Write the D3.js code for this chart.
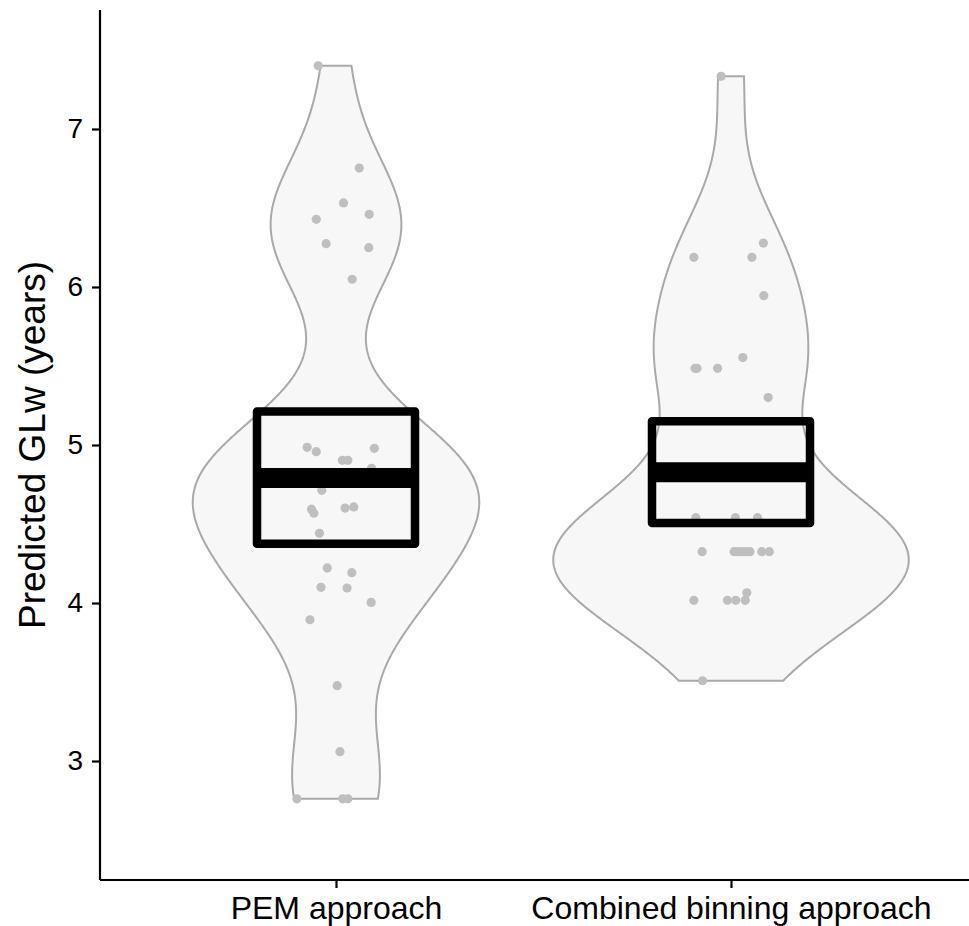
<!DOCTYPE html>
<html>
<head>
<meta charset="utf-8">
<script src="https://cdn.jsdelivr.net/npm/d3@7"></script>
<style>
  body { margin: 0; background: #fff; }
  svg { display: block; font-family: Arial, "Liberation Sans", sans-serif; }
</style>
</head>
<body>
<svg width="969" height="926"></svg>
<script>
// categories
const groups = ['PEM approach', 'Combined binning approach'];

// predicted GLw values (one sits behind the mean bar)
const pemValues = [7.40, 6.753, 6.532, 6.428, 6.46, 6.274, 6.249, 6.049,
  4.985, 4.958, 4.979, 4.903, 4.903, 4.853, 4.79, 4.713, 4.594, 4.568, 4.601, 4.608,
  4.441, 4.222, 4.192, 4.099, 4.095, 4.004, 3.894, 3.477, 3.059, 2.761, 2.761, 2.761];
// horizontal jitter of each point (in category units)
const pemJitter = [-0.045, 0.059, 0.019, -0.050, 0.084, -0.025, 0.083, 0.041,
  -0.073, -0.050, 0.097, 0.016, 0.030, 0.090, 0.005, -0.036, -0.062, -0.056, 0.023, 0.045,
  -0.042, -0.022, 0.040, -0.038, 0.028, 0.089, -0.066, 0.003, 0.010, -0.099, 0.017, 0.030];

const combValues = [7.333, 6.278, 6.188, 6.188, 5.945, 5.553, 5.485, 5.485, 5.485,
  5.30, 4.54, 4.54, 4.54,
  4.325, 4.325, 4.325, 4.325, 4.325, 4.325, 4.325, 4.325,
  4.017, 4.017, 4.017, 4.017, 4.065, 3.508];
const combJitter = [-0.025, 0.082, -0.094, 0.053, 0.083, 0.030, -0.091, -0.086, -0.034,
  0.094, -0.089, 0.011, 0.067,
  -0.073, 0.008, 0.018, 0.028, 0.038, 0.048, 0.078, 0.097,
  -0.094, -0.009, 0.012, 0.036, 0.040, -0.072];

// crossbar: mean and interval
const means = [4.791, 4.828];
const lowers = [4.375, 4.506];
const uppers = [5.212, 5.151];

const yTicks = [3, 4, 5, 6, 7];

const svg = d3.select('svg');

const x = d3.scaleLinear().domain([0.4, 2.6]).range([99, 968]);
const y = d3.scaleLinear().domain([2.247, 7.753]).range([880, 10]);

// kernel density, R's nrd0 bandwidth
function nrd0(v) {
  let s = v.slice().sort(d3.ascending);
  let sd = d3.deviation(s);
  let iqr = d3.quantileSorted(s, 0.75) - d3.quantileSorted(s, 0.25);
  let lo = Math.min(sd, iqr / 1.34);
  if (!lo) lo = sd || Math.abs(s[0]) || 1;
  return 0.9 * lo * Math.pow(s.length, -0.2);
}

function density(v) {
  let bw = nrd0(v);
  let lo = d3.min(v), hi = d3.max(v);
  let n = 512;
  return d3.range(n).map((i) => {
    let t = lo + (hi - lo) * i / (n - 1);
    let sum = d3.sum(v, (xi) => Math.exp(-0.5 * ((t - xi) / bw) ** 2));
    return { y: t, d: sum / (v.length * bw * Math.sqrt(2 * Math.PI)) };
  });
}

const allValues = [pemValues, combValues];
const allJitter = [pemJitter, combJitter];
const dens = allValues.map(density);
const maxD = d3.max(dens, (ds) => d3.max(ds, (p) => p.d));

const plot = svg.append('g');

// violins
dens.forEach((ds, i) => {
  let c = i + 1;
  let pts = ds.map((p) => [x(c + 0.45 * p.d / maxD), y(p.y)])
    .concat(ds.slice().reverse().map((p) => [x(c - 0.45 * p.d / maxD), y(p.y)]));
  plot.append('path')
    .attr('d', d3.line()(pts) + 'Z')
    .attr('fill', '#f7f7f7')
    .attr('stroke', '#a9a9a9')
    .attr('stroke-width', 2);
});

// jittered points
allValues.forEach((vals, i) => {
  plot.selectAll('.pt' + i)
    .data(vals)
    .enter().append('circle')
    .attr('cx', (d, j) => x(i + 1 + allJitter[i][j]))
    .attr('cy', (d) => y(d))
    .attr('r', 4.6)
    .attr('fill', '#bfbfbf');
});

// crossbars
groups.forEach((g, i) => {
  let c = i + 1;
  plot.append('rect')
    .attr('x', x(c - 0.2))
    .attr('y', y(uppers[i]))
    .attr('width', x(c + 0.2) - x(c - 0.2))
    .attr('height', y(lowers[i]) - y(uppers[i]))
    .attr('fill', 'none')
    .attr('stroke', '#000')
    .attr('stroke-width', 8.5)
    .attr('stroke-linejoin', 'round');
  plot.append('line')
    .attr('x1', x(c - 0.2))
    .attr('x2', x(c + 0.2))
    .attr('y1', y(means[i]))
    .attr('y2', y(means[i]))
    .attr('stroke', '#000')
    .attr('stroke-width', 20);
});

// axes
let yAxis = svg.append('g')
  .attr('transform', 'translate(100,0)')
  .call(d3.axisLeft(y).tickValues(yTicks).tickSize(8).tickPadding(9).tickFormat(d3.format('d')));
yAxis.select('.domain').attr('d', `M0,${y.range()[1]}V${y.range()[0]}`);

let xAxis = svg.append('g')
  .attr('transform', 'translate(0,880)')
  .call(d3.axisBottom(x).tickValues([1, 2]).tickSize(8).tickPadding(8)
    .tickFormat((d) => groups[d - 1]));
xAxis.select('.domain').attr('d', `M100,0H969`);

svg.selectAll('.domain').attr('stroke', '#000').attr('stroke-width', 2.2);
svg.selectAll('.tick line').attr('stroke', '#000').attr('stroke-width', 2.2);
yAxis.selectAll('text').attr('font-size', 28).attr('fill', '#000');
xAxis.selectAll('text').attr('font-size', 32).attr('fill', '#000');

svg.append('text')
  .attr('transform', 'translate(45,445) rotate(-90)')
  .attr('text-anchor', 'middle')
  .attr('font-size', 37)
  .attr('fill', '#000')
  .text('Predicted GLw (years)');
</script>
</body>
</html>
